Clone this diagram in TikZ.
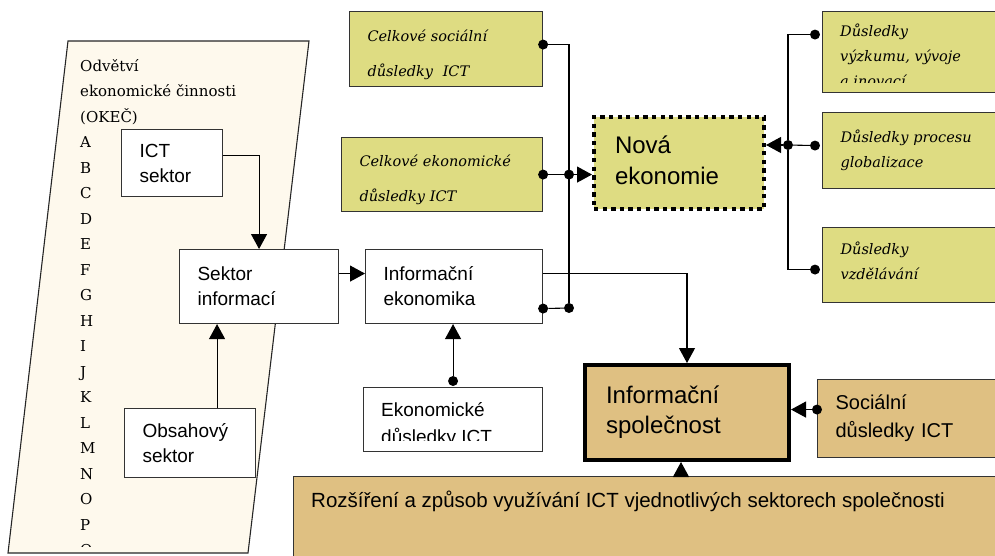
\documentclass[tikz,border=0pt]{standalone}
\usepackage{fontspec}
\setmainfont{DejaVu Serif}
\setsansfont{Liberation Sans}
\usetikzlibrary{arrows.meta}

\definecolor{nekYellow}{RGB}{222,220,130}
\definecolor{spolTan}{RGB}{223,192,130}
\definecolor{okecCream}{RGB}{254,249,237}

\begin{document}
\begin{tikzpicture}[
  x=1pt, y=-1pt,
  box/.style = {draw=black!80, line width=1.1pt, fill=white, anchor=north west, align=left,
                inner xsep=18pt, inner ysep=0pt, font=\sffamily\fontsize{19}{25}\selectfont},
  ybox/.style = {box, fill=nekYellow, font=\itshape\fontsize{14.5}{25}\selectfont},
  tbox/.style = {box, fill=spolTan},
  jdot/.style = {circle, fill=black, inner sep=0pt, minimum size=10pt},
  ln/.style = {line width=1.1pt},
  arr/.style = {-{Triangle[length=15pt,width=16pt]}, line width=1.1pt}
]
\useasboundingbox (0,0) rectangle (995,555);
\clip (0,0) rectangle (995,555);

% OKEC column
\draw[draw=black!85, line width=1.1pt, fill=okecCream] (68,41) -- (309,41) -- (248,553) -- (8,553) -- cycle;
\begin{scope}
  \clip (0,41) rectangle (320,546);
  \node[anchor=north west, align=left, inner sep=0pt, font=\fontsize{15}{25.5}\selectfont] (okec) at (80,59)
    {Odvětví\\ekonomické činnosti\\(OKEČ)\\A\\B\\C\\D\\E\\F\\G\\H\\I\\J\\K\\L\\M\\N\\O\\P\\Q};
\end{scope}

% left part
\node[box, minimum height=67pt, text width=65pt] (ict) at (121,129) {ICT\\sektor};
\node[box, minimum height=74pt, text width=123pt] (sinf) at (179,249) {Sektor\\informací};
\node[box, minimum height=69pt, text width=95pt] (obs) at (124,408) {Obsahový\\sektor};
\node[box, minimum height=74pt, text width=141pt] (iek) at (365,249) {Informační\\ekonomika};
\node[box, minimum height=64pt, text width=143pt] (eko) at (363,387) {};
\begin{scope}
  \clip (363,387) rectangle (542,440);
  \node[anchor=north west, align=left, inner sep=0pt, font=\sffamily\fontsize{19}{27}\selectfont] (ekotext) at (381,402)
    {Ekonomické\\důsledky ICT};
\end{scope}

% top
\node[ybox, minimum height=75pt, text width=157pt, font=\itshape\fontsize{14.5}{35}\selectfont] (csoc) at (349,11)
  {\rule{0pt}{24pt}Celkové sociální\\důsledky~ ICT};
\node[ybox, minimum height=74pt, text width=165pt, font=\itshape\fontsize{14.5}{35}\selectfont] (cek) at (341,137)
  {\rule{0pt}{22pt}Celkové ekonomické\\důsledky ICT};
\node[box, fill=nekYellow, draw=black, line width=4pt, dash pattern=on 4.3pt off 4.3pt,
      inner xsep=21pt, minimum height=92pt, text width=128pt,
      font=\sffamily\fontsize{24}{31}\selectfont] (nova) at (592,115) {Nová\\ekonomie\rule[-6pt]{0pt}{6pt}};

% right
\node[ybox, minimum height=81pt, text width=200pt] (dvyz) at (822,11) {};
\begin{scope}
  \clip (822,11) rectangle (995,82);
  \node[anchor=north west, align=left, inner sep=0pt, font=\itshape\fontsize{14.5}{25}\selectfont] (dvyztext) at (840,24)
    {Důsledky\\výzkumu, vývoje\\a inovací};
\end{scope}
\node[ybox, minimum height=76pt, text width=200pt] (dglob) at (822,112) {Důsledky procesu\\globalizace};
\node[ybox, minimum height=75pt, text width=200pt] (dvzd) at (822,227) {Důsledky\\vzdělávání\rule[-8pt]{0pt}{8pt}};

% bottom
\node[tbox, line width=4pt, draw=black, inner xsep=21pt, minimum height=95pt, text width=162pt,
      font=\sffamily\fontsize{24}{30}\selectfont] (ispol) at (583,363) {Informační\\společnost};
\node[tbox, minimum height=78pt, text width=200pt, font=\sffamily\fontsize{20}{28}\selectfont] (soc) at (817,379)
  {Sociální\\důsledky ICT};
\node[tbox, minimum height=100pt, text width=700pt] (roz) at (293,476) {};
\node[anchor=base west, inner sep=0pt, font=\sffamily\fontsize{20.5}{25}\selectfont] (roztext) at (311,507)
  {Rozšíření a způsob využívání ICT vjednotlivých sektorech společnosti};

% dots
\node[jdot] (dcs) at ([yshift=4.5pt]csoc.east) {};
\node[jdot] (dce) at (cek.east) {};
\node[jdot] (die) at ([yshift=-22pt]iek.east) {};
\node[jdot] (jie) at (569,308) {};
\node[jdot] (jce) at (dce -| jie) {};
\node[jdot] (dek) at ([yshift=6pt]eko.north) {};
\node[jdot] (dvy) at ([xshift=-7pt,yshift=17.5pt]dvyz.west) {};
\node[jdot] (dgl) at ([xshift=-7pt,yshift=5pt]dglob.west) {};
\node[jdot] (dvz) at ([xshift=-7pt,yshift=-4.5pt]dvzd.west) {};
\node[jdot] (jgl) at (788,145) {};
\node[jdot] (dso) at ([yshift=9pt]soc.west) {};
\coordinate (rozin) at ([xshift=-6pt]ispol.south);

% connectors
\draw[arr] ([yshift=8pt]ict.east) -| (sinf.north);
\draw[arr] ([xshift=27pt]obs.north) -- ([xshift=27pt]obs.north |- sinf.south);
\draw[arr] ([yshift=13pt]sinf.east) -- ([yshift=13pt]iek.west);
\draw[arr] (dek) -- (dek |- iek.south);
\draw[arr] ([yshift=13pt]iek.east) -| (ispol.north);
\draw[ln] (dcs) -| (jie);
\draw[ln] (die) -- (jie);
\draw[ln] (dce) -- (jce);
\draw[arr] (jce) -- (jce -| nova.west);
\draw[ln] (dvy) -| (jgl);
\draw[ln] (dvz) -| (jgl);
\draw[ln] (dgl) -- (jgl);
\draw[arr] (jgl) -- (jgl -| nova.east);
\draw[arr] (dso) -- (dso -| ispol.east);
\draw[arr] (rozin |- roz.north) -- (rozin);
\end{tikzpicture}
\end{document}
